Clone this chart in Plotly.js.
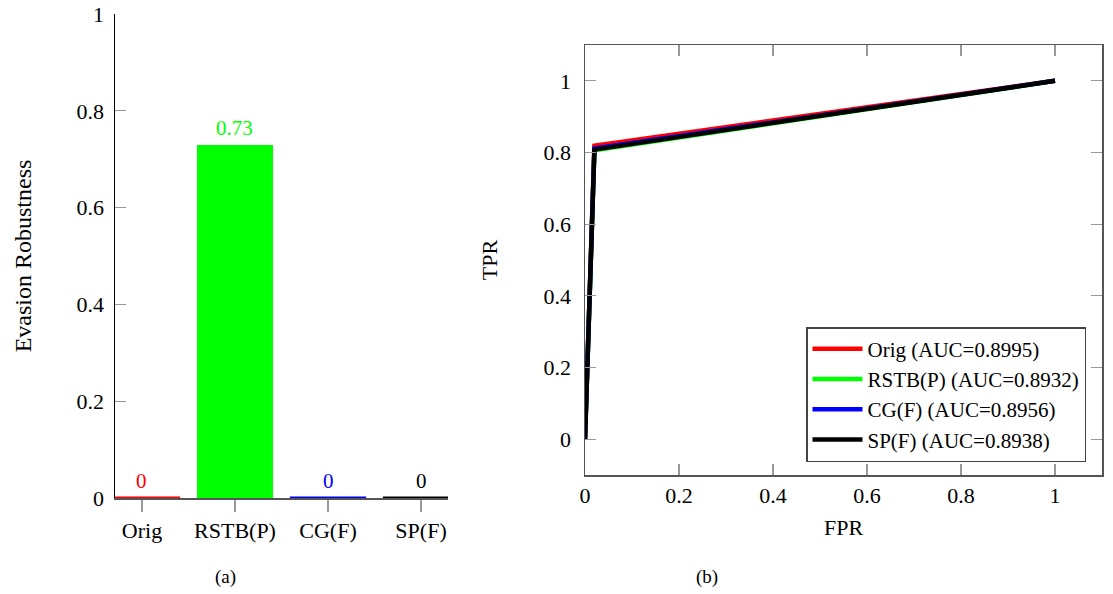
<!DOCTYPE html>
<html>
<head>
<meta charset="utf-8">
<script src="https://cdn.plot.ly/plotly-3.0.1.min.js"></script>
<style>html,body{margin:0;padding:0;background:#fff;}#chart{width:1113px;height:594px;}</style>
</head>
<body>
<div id="chart"></div>
<script>
// ---- Data: (a) evasion robustness bars ----
const categories = ['Orig', 'RSTB(P)', 'CG(F)', 'SP(F)'];
const robustness = [0, 0.73, 0, 0];
const barColors = ['#ff0000', '#00ff00', '#0000ff', '#000000'];
const barTickVals = [0, 0.2, 0.4, 0.6, 0.8, 1];
const barTickText = ['0', '0.2', '0.4', '0.6', '0.8', '1'];

// ---- Data: (b) ROC curves ----
const rocNames = ['Orig (AUC=0.8995)', 'RSTB(P) (AUC=0.8932)', 'CG(F) (AUC=0.8956)', 'SP(F) (AUC=0.8938)'];
const origFPR = [0, 0.02, 1];
const origTPR = [0, 0.819, 1];
const rstbFPR = [0, 0.02, 1];
const rstbTPR = [0, 0.806, 1];
const cgFPR = [0, 0.02, 1];
const cgTPR = [0, 0.811, 1];
const spFPR = [0, 0.02, 1];
const spTPR = [0, 0.808, 1];
const rocTickVals = [0, 0.2, 0.4, 0.6, 0.8, 1];
const rocTickText = ['0', '0.2', '0.4', '0.6', '0.8', '1'];

const FONT = 'Liberation Serif, Times New Roman, serif';
const barWidth = 0.82;
const idx = categories.map((c, i) => i);

const traces = [];
traces.push({
  type: 'bar', x: idx, y: robustness, width: barWidth,
  marker: {color: barColors, line: {width: 0}},
  xaxis: 'x', yaxis: 'y', showlegend: false, hoverinfo: 'skip'
});
// bar outlines along the base (visible for zero-height bars)
idx.forEach(i => {
  traces.push({
    type: 'scatter', mode: 'lines',
    x: [i - barWidth / 2, i + barWidth / 2], y: [0, 0],
    line: {color: barColors[i], width: 3},
    xaxis: 'x', yaxis: 'y', showlegend: false, hoverinfo: 'skip'
  });
});

const rocX = [origFPR, rstbFPR, cgFPR, spFPR];
const rocY = [origTPR, rstbTPR, cgTPR, spTPR];
rocNames.forEach((n, k) => {
  traces.push({
    type: 'scatter', mode: 'lines', name: n,
    x: rocX[k], y: rocY[k],
    line: {color: barColors[k], width: 4.5},
    xaxis: 'x2', yaxis: 'y2', legendgroup: 'g' + k, hoverinfo: 'skip'
  });
});

const W = 1113, H = 594;
const axisCommon = {
  showgrid: false, zeroline: false, showline: true,
  tickcolor: '#999', tickwidth: 1.2, ticklen: 11,
  tickfont: {family: FONT, size: 22, color: '#000'},
  fixedrange: true
};

const valueLabels = idx.map(i => ({
  text: String(robustness[i]), x: i, y: robustness[i], xref: 'x', yref: 'y',
  xanchor: 'center', yanchor: 'bottom', yshift: 3, showarrow: false,
  font: {family: FONT, size: 21, color: barColors[i]}
}));

const layout = {
  width: W, height: H,
  margin: {l: 0, r: 0, t: 0, b: 0},
  paper_bgcolor: '#fff', plot_bgcolor: '#fff',
  font: {family: FONT, size: 22, color: '#000'},
  hovermode: false,
  bargap: 0,
  xaxis: Object.assign({}, axisCommon, {
    domain: [115 / W, 448 / W], range: [-0.29, 3.29],
    tickvals: idx, ticktext: categories,
    ticks: 'outside', ticklen: 12, linecolor: '#555', linewidth: 1.5,
    ticklabelstandoff: 0, anchor: 'y'
  }),
  yaxis: Object.assign({}, axisCommon, {
    domain: [1 - 498 / H, 1 - 14 / H], range: [0, 1],
    tickvals: barTickVals, ticktext: barTickText,
    ticks: 'inside', linecolor: '#000', linewidth: 1.5,
    ticklabelstandoff: 5, anchor: 'x',
    title: {text: 'Evasion Robustness', font: {family: FONT, size: 24}, standoff: 38}
  }),
  xaxis2: Object.assign({}, axisCommon, {
    domain: [585 / W, 1102 / W], range: [0, 1.1],
    tickvals: rocTickVals, ticktext: rocTickText,
    ticks: 'inside', mirror: 'ticks', linecolor: '#555', linewidth: 1.5,
    ticklabelstandoff: 0, anchor: 'y2',
    title: {text: 'FPR', font: {family: FONT, size: 22}, standoff: 12}
  }),
  yaxis2: Object.assign({}, axisCommon, {
    domain: [1 - 475 / H, 1 - 45 / H], range: [-0.1, 1.1],
    tickvals: rocTickVals, ticktext: rocTickText,
    ticks: 'inside', mirror: 'ticks', linecolor: '#555', linewidth: 1.5,
    ticklabelstandoff: 8, anchor: 'x2',
    title: {text: 'TPR', font: {family: FONT, size: 22}, standoff: 40}
  }),
  legend: {
    x: 1086 / W, xanchor: 'right', y: 1 - 462 / H, yanchor: 'bottom',
    bordercolor: '#444', borderwidth: 1.5, bgcolor: '#fff',
    font: {family: FONT, size: 21, color: '#000'},
    tracegroupgap: 6, traceorder: 'normal', itemwidth: 50
  },
  annotations: valueLabels.concat([
    {text: '(a)', x: 226 / W, y: 1 - 577 / H, xref: 'paper', yref: 'paper',
     xanchor: 'center', yanchor: 'middle', showarrow: false, font: {family: FONT, size: 19}},
    {text: '(b)', x: 707 / W, y: 1 - 577 / H, xref: 'paper', yref: 'paper',
     xanchor: 'center', yanchor: 'middle', showarrow: false, font: {family: FONT, size: 19}}
  ])
};

Plotly.newPlot('chart', traces, layout, {staticPlot: true, displayModeBar: false});
</script>
</body>
</html>
